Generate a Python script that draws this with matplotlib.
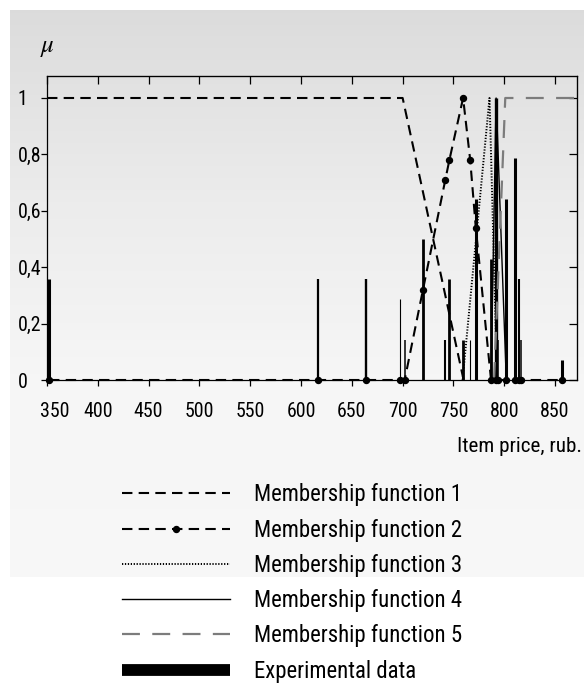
import numpy as np
import matplotlib
matplotlib.use('Agg')
import matplotlib.pyplot as plt
from matplotlib.lines import Line2D
from matplotlib.transforms import ScaledTranslation

# ---------------- data ----------------
price = [352, 617, 664, 697, 702, 720, 742, 746, 759.5, 766.5, 772, 787,
         792, 793.5, 802, 810.5, 814.5, 816.5, 856.5]
share = [0.357, 0.357, 0.357, 0.286, 0.143, 0.5, 0.143, 0.357, 0.143, 0.143,
         0.643, 0.429, 1.0, 0.143, 0.643, 0.786, 0.357, 0.143, 0.071]
mf2_mu = [0, 0, 0, 0, 0, 0.32, 0.71, 0.78, 1.0, 0.78, 0.54, 0,
          0, 0, 0, 0, 0, 0, 0]
mf1_x = [350, 700, 760]
mf1_y = [1, 1, 0]
mf3_x = [759, 785.5, 793]
mf3_y = [0, 1, 0]
mf4_x = [787, 792, 802]
mf4_y = [0, 1, 0]
mf5_x = [790, 801, 872]
mf5_y = [0, 1, 1]
x_ticks = [350, 400, 450, 500, 550, 600, 650, 700, 750, 800, 850]
y_ticks = [0, 0.2, 0.4, 0.6, 0.8, 1.0]
y_tick_labels = ['0', '0,2', '0,4', '0,6', '0,8', '1']
legend_labels = ['Membership function 1', 'Membership function 2',
                 'Membership function 3', 'Membership function 4',
                 'Membership function 5', 'Experimental data']
x_label = 'Item price, rub.'

# ---------------- style ----------------
FAMILY = ['Roboto Condensed', 'Archivo Narrow', 'Barlow Condensed', 'DejaVu Sans']
plt.rcParams['font.family'] = FAMILY
plt.rcParams['lines.scale_dashes'] = False
plt.rcParams['mathtext.fontset'] = 'stix'

W, H = 584, 683
fig = plt.figure(figsize=(W / 100, H / 100), dpi=100)
fig.patch.set_facecolor('white')
renderer = fig.canvas.get_renderer()


def fit_size(s, target_px, base=20.0):
    t = fig.text(0, 0, s, fontsize=base)
    bb = t.get_window_extent(renderer)
    t.remove()
    return base * target_px / bb.width, bb.height * target_px / bb.width


tick_fs, _ = fit_size('850', 29.5)
leg_fs, leg_h = fit_size(legend_labels[0], 207)
xl_fs, _ = fit_size(x_label, 125)

# background gradient panel
bg = fig.add_axes([0, 0, 1, 1], zorder=-10)
bg.set_xlim(0, W)
bg.set_ylim(H, 0)
bg.axis('off')
rows = np.arange(10, 578)
grey = np.interp(rows, [10, 200, 380, 577], [0.862, 0.925, 0.966, 0.970])
img = np.repeat(grey[:, None], 2, axis=1)
img = np.dstack([img, img, img])
bg.imshow(img, extent=(10, W, 577, 10), aspect='auto', interpolation='bilinear')

# main axes
left, right, top, bottom = 47, 577, 76, 380
ax = fig.add_axes([left / W, 1 - bottom / H, (right - left) / W, (bottom - top) / H])
ax.set_facecolor('none')
ax.set_xlim(350, 871.6)
ax.set_ylim(0, 1.078)

bar_lw = [2.2, 1.6, 1.7, 0.8, 1.1, 2.0, 1.5, 2.0, 2.0, 0.8, 2.2, 2.0,
          2.4, 1.1, 2.2, 2.2, 1.5, 1.1, 2.2]
ax.vlines(price, 0, share, colors='black', linewidths=bar_lw, zorder=1.5)

l1, = ax.plot(mf1_x, mf1_y, color='black', lw=1.5, dashes=(7.5, 4.5), zorder=2)
l2, = ax.plot(price, mf2_mu, color='black', lw=1.5, dashes=(7.5, 4.5),
              marker='o', ms=4.3, zorder=3, clip_on=False)
l3, = ax.plot(mf3_x, mf3_y, color='black', lw=1.4, dashes=(0.9, 1.2), zorder=2)
l4, = ax.plot(mf4_x, mf4_y, color='black', lw=1.0, zorder=2)
l5, = ax.plot(mf5_x, mf5_y, color='#7c7c7c', lw=1.6, dashes=(12.9, 8.9), zorder=2)

for s in ax.spines.values():
    s.set_linewidth(0.9)
    s.set_zorder(2.5)

ax.set_xticks(x_ticks)
ax.set_xticklabels([str(v) for v in x_ticks])
ax.set_yticks(y_ticks)
ax.set_yticklabels(y_tick_labels)
ax.tick_params(axis='x', direction='out', length=4, width=0.9, pad=12, labelsize=tick_fs)
ax.tick_params(axis='y', direction='out', length=4, width=0.9, pad=17, labelsize=tick_fs)
for lab in ax.get_yticklabels():
    lab.set_horizontalalignment('left')

secx = ax.secondary_xaxis('top')
secx.set_xticks(x_ticks)
secx.tick_params(direction='in', length=6, width=0.9, labeltop=False)
secy = ax.secondary_yaxis('right')
secy.set_yticks(y_ticks)
secy.tick_params(direction='in', length=6, width=0.9, labelright=False)

ax.set_xlabel(x_label, fontsize=xl_fs, ha='right', va='center')
ax.xaxis.set_label_coords((582 - left) / (right - left), -(446 - bottom) / (bottom - top))

fig.text(40 / W, 1 - 47 / H, r'$\mu$', fontsize=18, ha='left', va='center')

# shift first x tick label a bit right
for lab in ax.get_xticklabels():
    if lab.get_text() == '350':
        lab.set_transform(lab.get_transform() + ScaledTranslation(8 / 100, 0, fig.dpi_scale_trans))

# legend
fs_px = leg_fs * 100 / 72
pitch = 34.4
bar_proxy = Line2D([], [], color='black', lw=8.5, solid_capstyle='butt')
fig.legend([l1, l2, l3, l4, l5, bar_proxy], legend_labels,
           loc='center left', bbox_to_anchor=(122 / W, 1 - 583 / H),
           frameon=False, fontsize=leg_fs, numpoints=1,
           handlelength=108 / fs_px, handletextpad=24 / fs_px,
           labelspacing=max(0.0, (pitch - leg_h) / fs_px),
           borderpad=0, borderaxespad=0)

fig.savefig('out.png', dpi=100, facecolor='white')
